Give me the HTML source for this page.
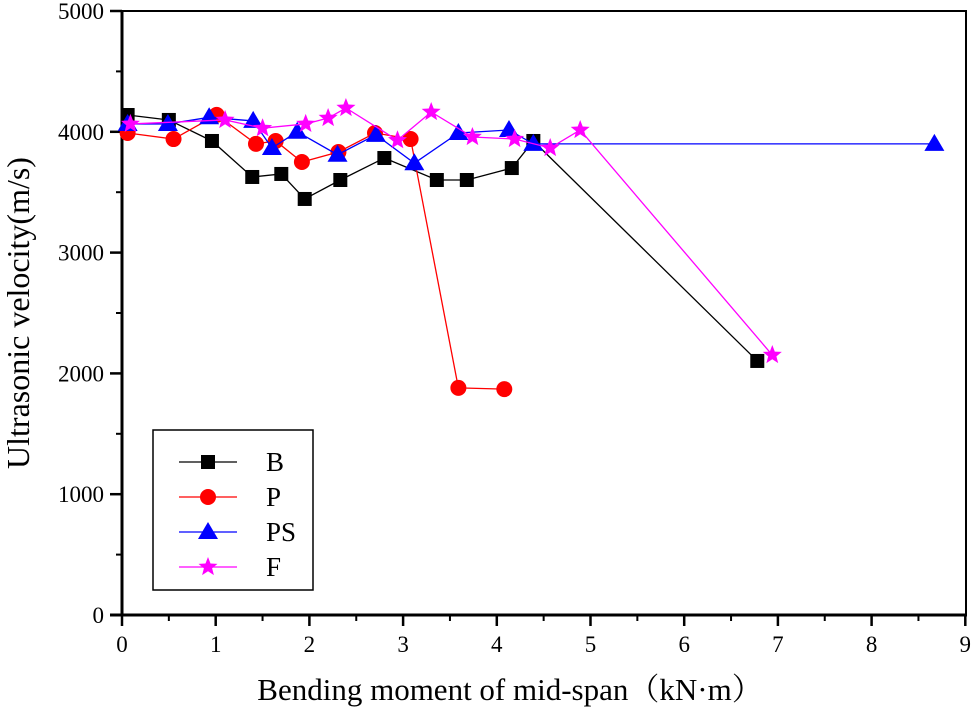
<!DOCTYPE html>
<html><head><meta charset="utf-8"><style>
body{margin:0;background:#fff}
svg text{font-family:"Liberation Serif","Noto Serif CJK SC",serif}
</style></head><body>
<svg id="chart" width="975" height="719" xmlns="http://www.w3.org/2000/svg"></svg>
<script>
const bX=[0.06,0.50,0.96,1.39,1.70,1.95,2.33,2.80,3.36,3.68,4.16,4.39,6.78];
const bY=[4139,4098,3924,3626,3651,3444,3601,3783,3601,3601,3700,3924,2103];
const pX=[0.06,0.55,1.01,1.43,1.64,1.92,2.31,2.70,3.08,3.59,4.08];
const pY=[3990,3940,4140,3900,3924,3750,3833,3990,3940,1880,1870];
const sX=[0.06,0.49,0.93,1.40,1.60,1.87,2.30,2.71,3.12,3.59,4.13,4.39,8.67];
const sY=[4065,4065,4120,4090,3866,4000,3810,3975,3740,3990,4015,3900,3900];
const fX=[0.09,1.10,1.50,1.96,2.20,2.39,2.94,3.30,3.74,4.19,4.57,4.89,6.94];
const fY=[4065,4098,4030,4065,4114,4197,3930,4164,3957,3940,3866,4015,2152];
const xTicks=[0,1,2,3,4,5,6,7,8,9];
const yTicks=[0,1000,2000,3000,4000,5000];
const NS="http://www.w3.org/2000/svg";
const svg=document.getElementById('chart');
const X=v=>122+v*93.7, Y=v=>615-v*0.1208;
function mk(t,a,p){const e=document.createElementNS(NS,t);for(const k in a)e.setAttribute(k,a[k]);(p||svg).appendChild(e);return e;}
let ax=mk('rect',{x:122,y:11,width:844,height:604,fill:'none',stroke:'#000','stroke-width':2});


mk('line',{x1:122,x2:122,y1:10,y2:616,stroke:'#000','stroke-width':3});
mk('line',{x1:110,x2:967,y1:615,y2:615,stroke:'#000','stroke-width':3});
xTicks.forEach(t=>{
  mk('line',{x1:X(t),x2:X(t),y1:615,y2:626,stroke:'#000','stroke-width':2.5});
  if(t<9)mk('line',{x1:X(t+0.5),x2:X(t+0.5),y1:615,y2:621,stroke:'#000','stroke-width':2});
  const tx=mk('text',{x:X(t),y:652,'text-anchor':'middle','font-size':23});tx.textContent=t;
  
  
});
yTicks.forEach(t=>{
  mk('line',{x1:110,x2:122,y1:Y(t),y2:Y(t),stroke:'#000','stroke-width':2.5});
  if(t<5000)mk('line',{x1:116,x2:122,y1:Y(t+500),y2:Y(t+500),stroke:'#000','stroke-width':2});
  const tx=mk('text',{x:104,y:Y(t)+8,'text-anchor':'end','font-size':23});tx.textContent=t;
  
  
});
let xt=mk('text',{x:510,y:700,'text-anchor':'middle','font-size':31});
xt.textContent='Bending moment of mid-span（kN·m）';


let yt=mk('text',{x:0,y:0,'text-anchor':'middle','font-size':32,transform:'translate(29,313) rotate(-90)'});
yt.textContent='Ultrasonic velocity(m/s)';


function marker(t,x,y,c,g){
  if(t==='sq')mk('rect',{x:x-7,y:y-7,width:14,height:14,fill:c},g);
  else if(t==='ci')mk('circle',{cx:x,cy:y,r:8,fill:c},g);
  else if(t==='tr')mk('polygon',{points:`${x},${y-10} ${x-10},${y+7} ${x+10},${y+7}`,fill:c},g);
  else{let p=[];for(let i=0;i<10;i++){const r=i%2?4.3:10,a=-Math.PI/2+i*Math.PI/5;p.push((x+r*Math.cos(a)).toFixed(1)+','+(y+r*Math.sin(a)).toFixed(1));}mk('polygon',{points:p.join(' '),fill:c},g);}
}
const series=[['B',bX,bY,'#000','sq'],['P',pX,pY,'#f00','ci'],['PS',sX,sY,'#00f','tr'],['F',fX,fY,'#f0f','st']];
series.forEach(([n,xs,ys,c,m])=>{
  const g=mk('g',{});
  
  
  mk('polyline',{points:xs.map((x,i)=>X(x)+','+Y(ys[i])).join(' '),fill:'none',stroke:c,'stroke-width':1.3},g);
  xs.forEach((x,i)=>marker(m,X(x),Y(ys[i]),c,g));
});
const lg=mk('g',{});


mk('rect',{x:153,y:430,width:160,height:160,fill:'#fff',stroke:'#000','stroke-width':1.5},lg);
series.forEach(([n,xs,ys,c,m],i)=>{
  const y=462+i*35;
  const e=mk('g',{},lg);
  
  
  mk('line',{x1:179,x2:237,y1:y,y2:y,stroke:c,'stroke-width':1.3},e);
  marker(m,208,y,c,e);
  const t=mk('text',{x:266,y:y+9,'font-size':27},e);t.textContent=n;
});
</script>
</body></html>
